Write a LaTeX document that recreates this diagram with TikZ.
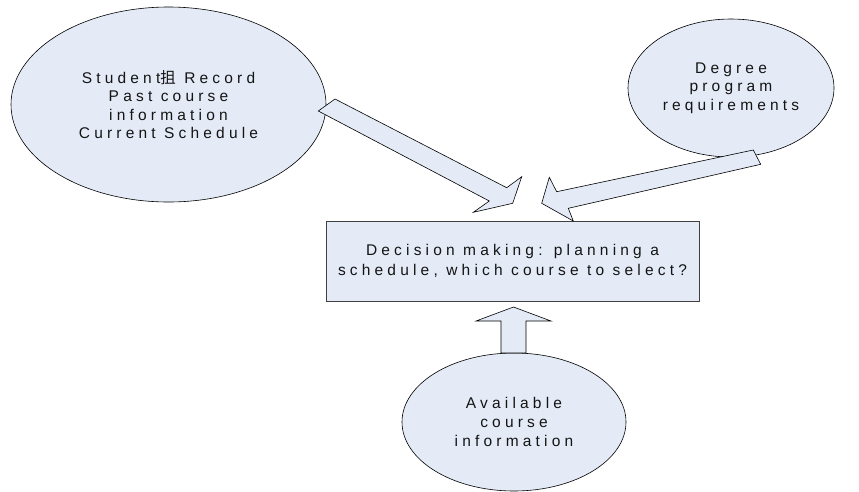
\documentclass[tikz,border=0pt]{standalone}
\usepackage{fontspec}
\setmainfont{Liberation Sans}[LetterSpace=27]
\newfontfamily\cjkfont{Noto Sans CJK SC}
\usetikzlibrary{shapes.geometric}
\definecolor{paleblue}{RGB}{228,235,247}
\definecolor{ink}{RGB}{20,20,20}
\tikzset{
  bubble/.style={ellipse, draw=black, line width=0.6pt, fill=paleblue,
    inner sep=0pt, align=center, text=ink,
    font=\fontsize{15.5}{18.6}\selectfont},
  decision/.style={rectangle, draw=black!75, line width=1pt, fill=paleblue,
    inner sep=0pt, align=center, text=ink,
    font=\fontsize{15.5}{20}\selectfont},
  blockarrow/.style={draw=black, line width=0.6pt, fill=paleblue, line join=miter}
}
\begin{document}
\begin{tikzpicture}[x=1pt,y=-1pt]
\useasboundingbox (0,0) rectangle (859,491);

% information sources
\node[bubble, minimum width=315pt, minimum height=195pt] (record) at (168.5,104.5)
  {Student{\cjkfont 抯} Record\\Past course\\information\\Current Schedule};
\node[bubble, minimum width=206pt, minimum height=138pt] (degree) at (731,88)
  {Degree\\program\\requirements};
\node[bubble, minimum width=224pt, minimum height=138pt] (courses) at (514,422)
  {Available\\course\\information};

% the decision itself
\node[decision, minimum width=373pt, minimum height=80pt] (decide) at (512.5,261)
  {Decision making: planning a\\schedule, which course to select?};

% block arrows feeding the decision
\draw[blockarrow] (335,99) -- (506.7,187.7) -- (521.7,176.7) -- (512.7,203.3)
  -- (473.3,212.3) -- (489.3,201) -- (318.3,111) -- cycle;
\draw[blockarrow] (753.3,150) -- (760.7,164.3) -- (568.3,208.3) -- (573.3,221)
  -- (541.7,203.3) -- (549.3,177.3) -- (556.7,191.7) -- cycle;
\draw[blockarrow] (501,353) -- (501,321) -- (476,321) -- (513.5,307)
  -- (551,321) -- (526,321) -- (526,353) -- cycle;
\end{tikzpicture}
\end{document}
